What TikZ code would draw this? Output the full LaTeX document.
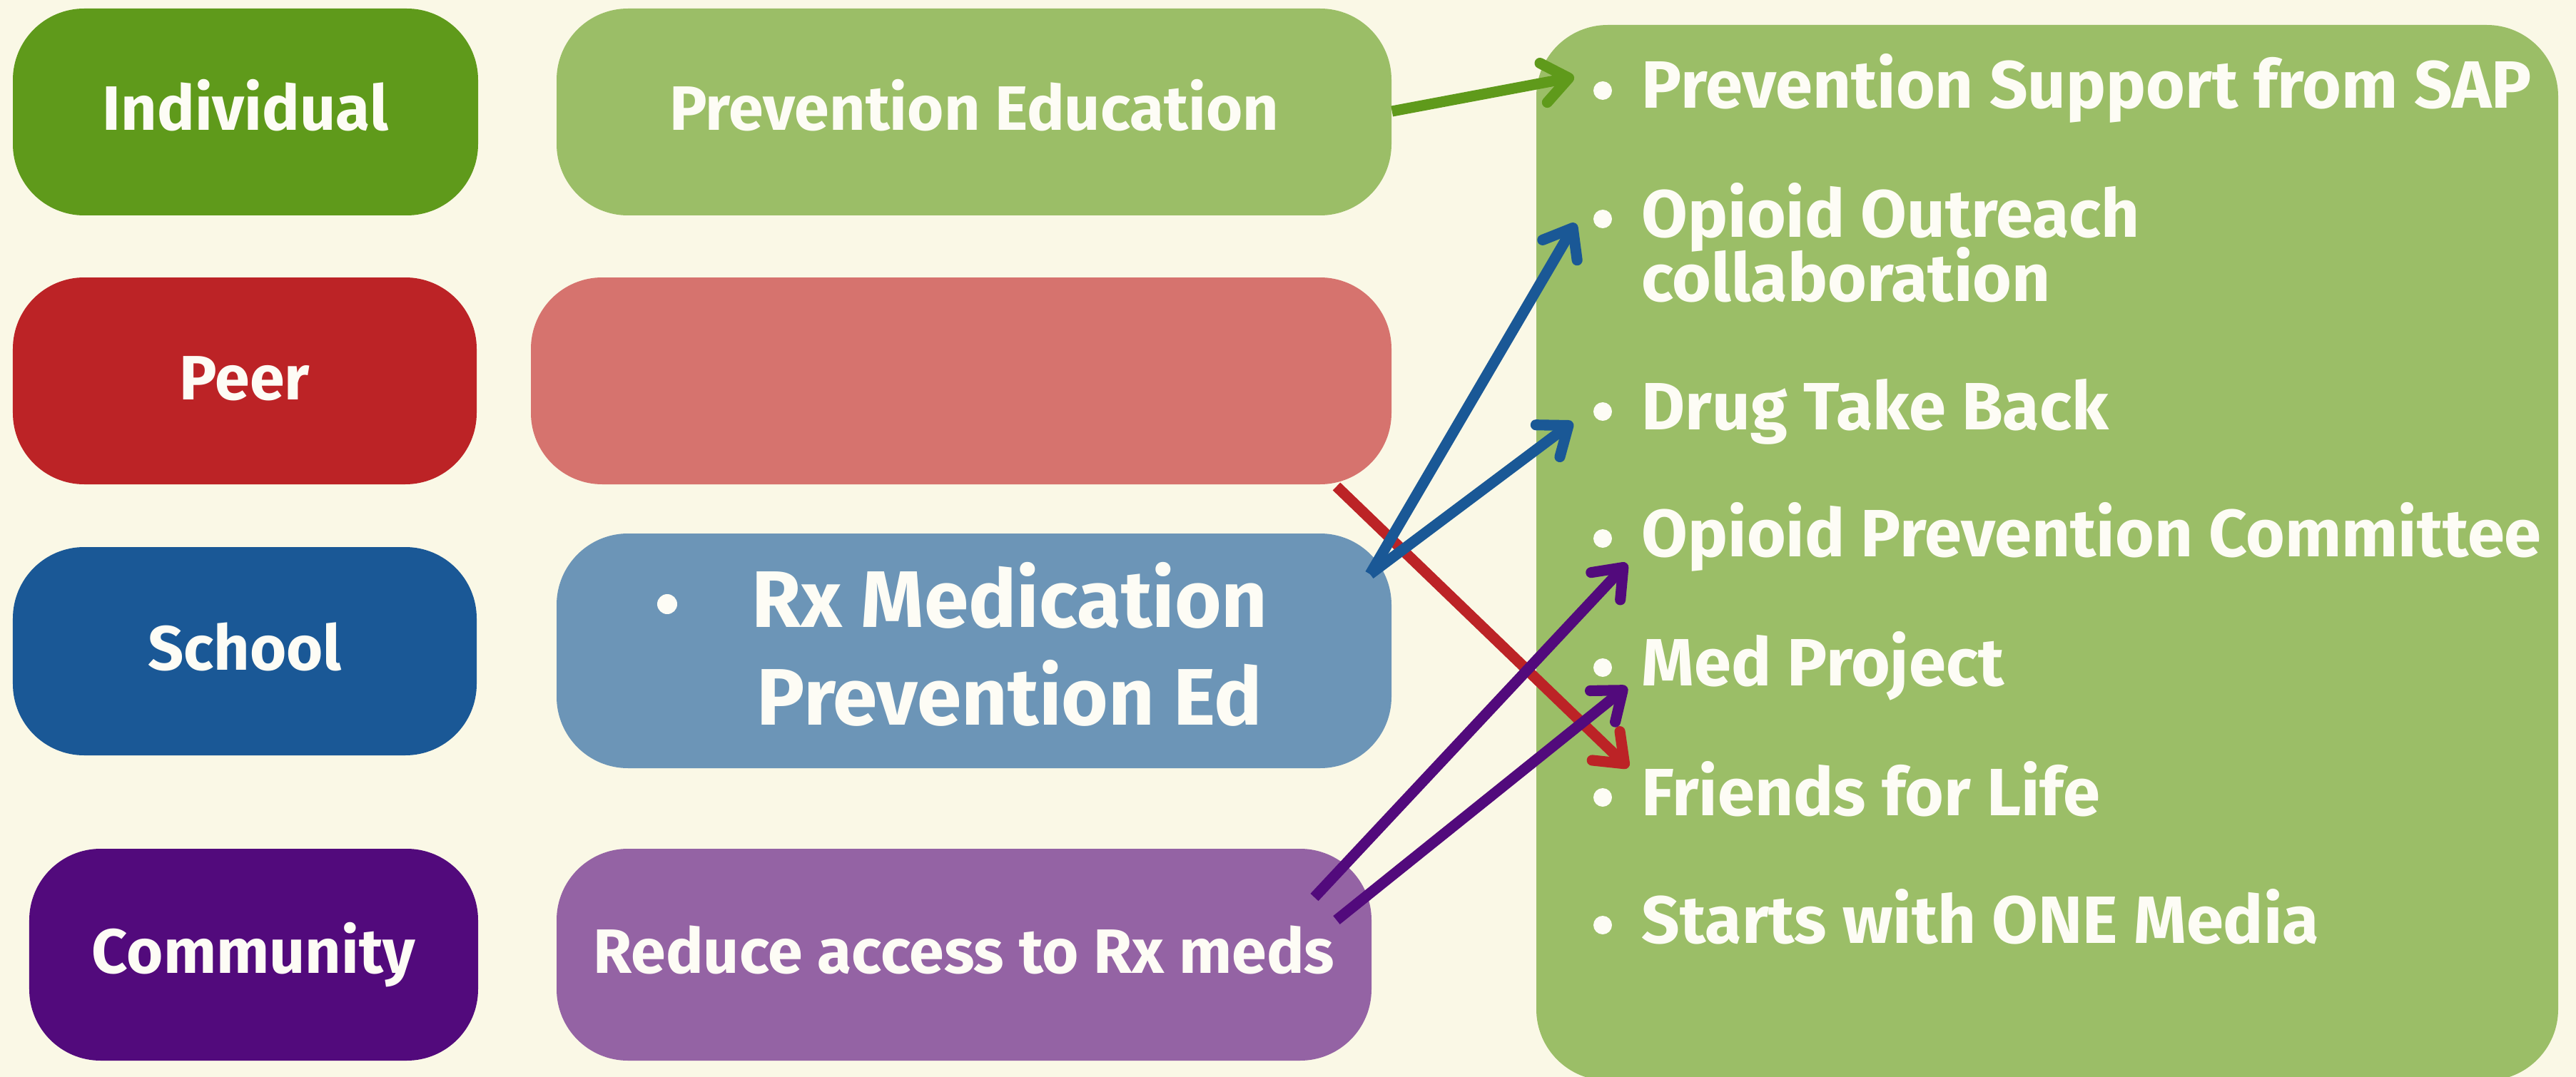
\documentclass[tikz,border=0pt]{standalone}
\usepackage{fontspec}
\setmainfont{Fira Sans}
\usepackage{xcolor}
\usetikzlibrary{arrows.meta}

\definecolor{cream}{HTML}{FAF8E6}
\definecolor{indiv}{HTML}{5F9A1B}
\definecolor{peer}{HTML}{BC2326}
\definecolor{school}{HTML}{1A5896}
\definecolor{commun}{HTML}{520A7C}
\definecolor{indivlight}{HTML}{9BBE67}
\definecolor{peerlight}{HTML}{D6736E}
\definecolor{schoollight}{HTML}{6C95B7}
\definecolor{communlight}{HTML}{9463A4}
\definecolor{txt}{HTML}{FDFCF5}

\begin{document}
\begin{tikzpicture}[
    levelbox/.style={rounded corners=1cm, inner sep=0pt, text=txt,
        text height=0.6cm, text depth=0.08cm,
        font=\fontsize{25}{30}\selectfont\bfseries},
    itemtext/.style={text=txt, font=\fontsize{26.7}{32}\selectfont\bfseries,
        anchor=base west, inner sep=0pt},
    link/.style={line width=4.3pt,
        -{Straight Barb[length=0.36cm, width=0.56cm, round]}},
]
    % Hintergrund
    \fill[cream] (0,0) rectangle (36.1,-15.1);
    \useasboundingbox (0,0) rectangle (36.1,-15.1);

    % Ebenen links
    \node[levelbox, fill=indiv, minimum width=6.52cm, minimum height=2.9cm] (individual) at (3.44,-1.57) {Individual};
    \node[levelbox, fill=peer, minimum width=6.5cm, minimum height=2.9cm] (peer) at (3.43,-5.34) {Peer};
    \node[levelbox, fill=school, minimum width=6.5cm, minimum height=2.92cm] (school) at (3.43,-9.13) {School};
    \node[levelbox, fill=commun, minimum width=6.29cm, minimum height=2.97cm] (community) at (3.555,-13.385) {Community};

    % Massnahmen Mitte
    \node[levelbox, fill=indivlight, minimum width=11.7cm, minimum height=2.9cm] (preved) at (13.65,-1.57) {Prevention Education};
    \node[levelbox, fill=peerlight, minimum width=12.06cm, minimum height=2.9cm] (peerbox) at (13.47,-5.34) {};
    \node[levelbox, fill=schoollight, minimum width=11.7cm, minimum height=3.29cm] (rxmed) at (13.65,-9.125) {};
    \node[levelbox, fill=communlight, minimum width=11.42cm, minimum height=2.97cm] (access) at (13.51,-13.385) {Reduce access to Rx meds};

    \node[text=txt, font=\fontsize{32}{38.7}\selectfont\bfseries, align=center, anchor=base] (rxtext) at (14.15,-10.16) {Rx Medication\\Prevention Ed};
    \fill[txt] (9.35,-8.47) circle (0.14);

    % Ergebnisse rechts
    \node[levelbox, fill=indivlight, minimum width=14.32cm, minimum height=14.8cm] (results) at (28.69,-7.75) {};
    \foreach \y/\t [count=\i] in {1.52/Prevention Support from SAP,
        3.32/Opioid Outreach,
        6.02/Drug Take Back,
        7.80/Opioid Prevention Committee,
        9.61/Med Project,
        11.43/Friends for Life,
        13.22/Starts with ONE Media} {
        \fill[txt] (22.46,-\y+0.25) circle (0.13);
        \node[itemtext] (item\i) at (23.0,-\y) {\t};
    }
    \node[itemtext] (item2b) at (23.0,-4.22) {collaboration};

    % Pfeile
    \coordinate (greentip) at (22.06,-1.08);
    \coordinate (bluestart) at (19.2,-8.05);
    \coordinate (bluetipa) at (22.08,-3.13);
    \coordinate (bluetipb) at (22.04,-5.92);
    \coordinate (redstart) at (18.73,-6.82);
    \coordinate (redtip) at (22.82,-10.76);
    \coordinate (purplestarta) at (18.42,-12.58);
    \coordinate (purpletipa) at (22.8,-7.9);
    \coordinate (purplestartb) at (18.73,-12.9);
    \coordinate (purpletipb) at (22.8,-9.63);

    \draw[link, indiv] (preved.east |- 0,-1.56) -- (greentip);
    \draw[link, peer] (redstart) -- (redtip);
    \draw[link, school] (bluestart) -- (bluetipa);
    \draw[link, school] (bluestart) -- (bluetipb);
    \draw[link, commun] (purplestarta) -- (purpletipa);
    \draw[link, commun] (purplestartb) -- (purpletipb);
\end{tikzpicture}
\end{document}
